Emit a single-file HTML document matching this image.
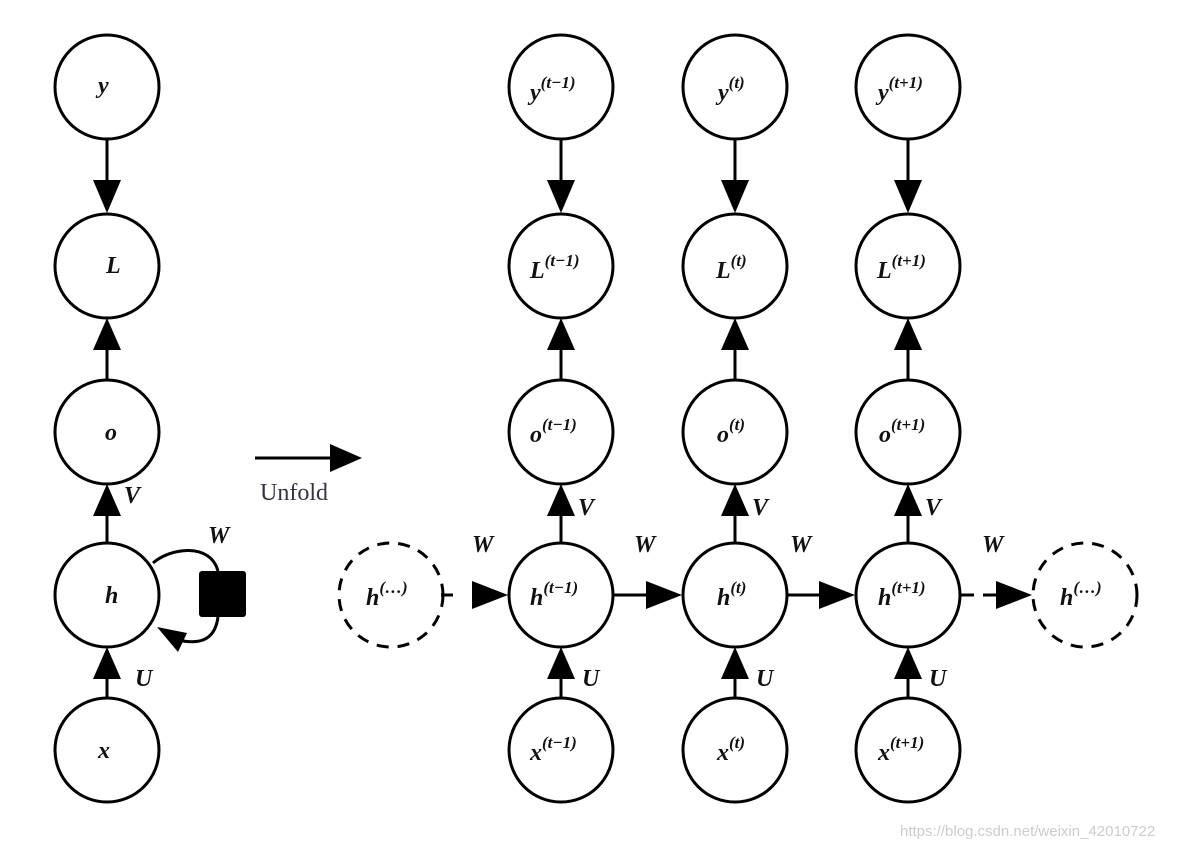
<!DOCTYPE html>
<html><head><meta charset="utf-8"><style>
html,body{margin:0;padding:0;background:#fff;}
svg{display:block}
text{font-family:"Liberation Serif",serif;font-style:italic;font-weight:bold;fill:#111;}
.s{font-size:17px;}
</style></head><body>
<svg width="1182" height="848" viewBox="0 0 1182 848">
<defs>
<g id="up"><polygon points="0,0 -14,32 14,32" fill="#000"/></g>
</defs>
<g fill="none" stroke="#000" stroke-width="3">
<!-- left column -->
<circle cx="107" cy="87" r="52"/>
<circle cx="107" cy="266" r="52"/>
<circle cx="107" cy="432" r="52"/>
<circle cx="107" cy="595" r="52"/>
<circle cx="107" cy="750" r="52"/>
<!-- columns -->
<circle cx="561" cy="87" r="52"/><circle cx="735" cy="87" r="52"/><circle cx="908" cy="87" r="52"/>
<circle cx="561" cy="266" r="52"/><circle cx="735" cy="266" r="52"/><circle cx="908" cy="266" r="52"/>
<circle cx="561" cy="432" r="52"/><circle cx="735" cy="432" r="52"/><circle cx="908" cy="432" r="52"/>
<circle cx="561" cy="595" r="52"/><circle cx="735" cy="595" r="52"/><circle cx="908" cy="595" r="52"/>
<circle cx="561" cy="750" r="52"/><circle cx="735" cy="750" r="52"/><circle cx="908" cy="750" r="52"/>
<circle cx="391" cy="595" r="52" stroke-dasharray="12,9"/>
<circle cx="1085" cy="595" r="52" stroke-dasharray="12,9"/>
<!-- loop -->
<path d="M153,563 C170,548 210,542 218,571"/>
<path d="M218,617 C215,640 200,645 178,640"/>
<!-- unfold -->
<line x1="255" y1="458" x2="332" y2="458"/>
<!-- horizontal -->
<line x1="441" y1="595" x2="458" y2="595" stroke-dasharray="12,9"/>
<line x1="613" y1="595" x2="650" y2="595"/>
<line x1="787" y1="595" x2="823" y2="595"/>
<line x1="960" y1="595" x2="1000" y2="595" stroke-dasharray="14,9"/>
</g>
<rect x="199" y="571" width="47" height="46" rx="3" fill="#000"/>
<polygon points="157,627 187,633 178,652" fill="#000"/>
<polygon points="362,458 330,444 330,472" fill="#000"/>
<polygon points="508,595 472,581 472,609" fill="#000"/>
<polygon points="682,595 646,581 646,609" fill="#000"/>
<polygon points="855,595 819,581 819,609" fill="#000"/>
<polygon points="1032,595 996,581 996,609" fill="#000"/>
<!-- verticals -->
<g stroke="#000" stroke-width="3">
<line x1="107" y1="139" x2="107" y2="185"/><line x1="561" y1="139" x2="561" y2="185"/><line x1="735" y1="139" x2="735" y2="185"/><line x1="908" y1="139" x2="908" y2="185"/>
<line x1="107" y1="345" x2="107" y2="380"/><line x1="561" y1="345" x2="561" y2="380"/><line x1="735" y1="345" x2="735" y2="380"/><line x1="908" y1="345" x2="908" y2="380"/>
<line x1="107" y1="512" x2="107" y2="543"/><line x1="561" y1="512" x2="561" y2="543"/><line x1="735" y1="512" x2="735" y2="543"/><line x1="908" y1="512" x2="908" y2="543"/>
<line x1="107" y1="675" x2="107" y2="698"/><line x1="561" y1="675" x2="561" y2="698"/><line x1="735" y1="675" x2="735" y2="698"/><line x1="908" y1="675" x2="908" y2="698"/>
</g>
<g fill="#000">
<polygon points="107,213 93,180 121,180"/><polygon points="561,213 547,180 575,180"/><polygon points="735,213 721,180 749,180"/><polygon points="908,213 894,180 922,180"/>
<use href="#up" x="107" y="318"/><use href="#up" x="561" y="318"/><use href="#up" x="735" y="318"/><use href="#up" x="908" y="318"/>
<use href="#up" x="107" y="484"/><use href="#up" x="561" y="484"/><use href="#up" x="735" y="484"/><use href="#up" x="908" y="484"/>
<use href="#up" x="107" y="647"/><use href="#up" x="561" y="647"/><use href="#up" x="735" y="647"/><use href="#up" x="908" y="647"/>
</g>
<!-- labels -->
<g font-size="24">
<text x="98" y="93">y</text>
<text x="106" y="273">L</text>
<text x="105" y="440">o</text>
<text x="105" y="603">h</text>
<text x="98" y="758">x</text>
<text x="124" y="503">V</text>
<text x="208" y="543">W</text>
<text x="135" y="686">U</text>
<text x="530" y="100">y<tspan class="s" dy="-12">(t−1)</tspan></text>
<text x="718" y="100">y<tspan class="s" dy="-12">(t)</tspan></text>
<text x="878" y="100">y<tspan class="s" dy="-12">(t+1)</tspan></text>
<text x="530" y="278" font-weight="normal">L<tspan class="s" dy="-12">(t−1)</tspan></text>
<text x="716" y="278" font-weight="normal">L<tspan class="s" dy="-12">(t)</tspan></text>
<text x="877" y="278">L<tspan class="s" dy="-12">(t+1)</tspan></text>
<text x="530" y="442">o<tspan class="s" dy="-12">(t−1)</tspan></text>
<text x="717" y="442">o<tspan class="s" dy="-12">(t)</tspan></text>
<text x="879" y="442">o<tspan class="s" dy="-12">(t+1)</tspan></text>
<text x="530" y="605">h<tspan class="s" dy="-12">(t−1)</tspan></text>
<text x="717" y="605">h<tspan class="s" dy="-12">(t)</tspan></text>
<text x="878" y="605">h<tspan class="s" dy="-12">(t+1)</tspan></text>
<text x="366" y="605">h<tspan class="s" dy="-12">(…)</tspan></text>
<text x="1060" y="605">h<tspan class="s" dy="-12">(…)</tspan></text>
<text x="530" y="760">x<tspan class="s" dy="-12">(t−1)</tspan></text>
<text x="717" y="760">x<tspan class="s" dy="-12">(t)</tspan></text>
<text x="878" y="760">x<tspan class="s" dy="-12">(t+1)</tspan></text>
<text x="578" y="515">V</text><text x="752" y="515">V</text><text x="925" y="515">V</text>
<text x="582" y="686">U</text><text x="756" y="686">U</text><text x="929" y="686">U</text>
<text x="472" y="552">W</text><text x="634" y="552">W</text><text x="790" y="552">W</text><text x="982" y="552">W</text>
</g>
<text x="260" y="500" font-size="24" style="font-style:normal;font-weight:normal;fill:#334">Unfold</text>
<text x="900" y="836" font-size="15" style="font-family:'Liberation Sans',sans-serif;font-style:normal;font-weight:normal;fill:#ccc">https://blog.csdn.net/weixin_42010722</text>
</svg>
</body></html>
